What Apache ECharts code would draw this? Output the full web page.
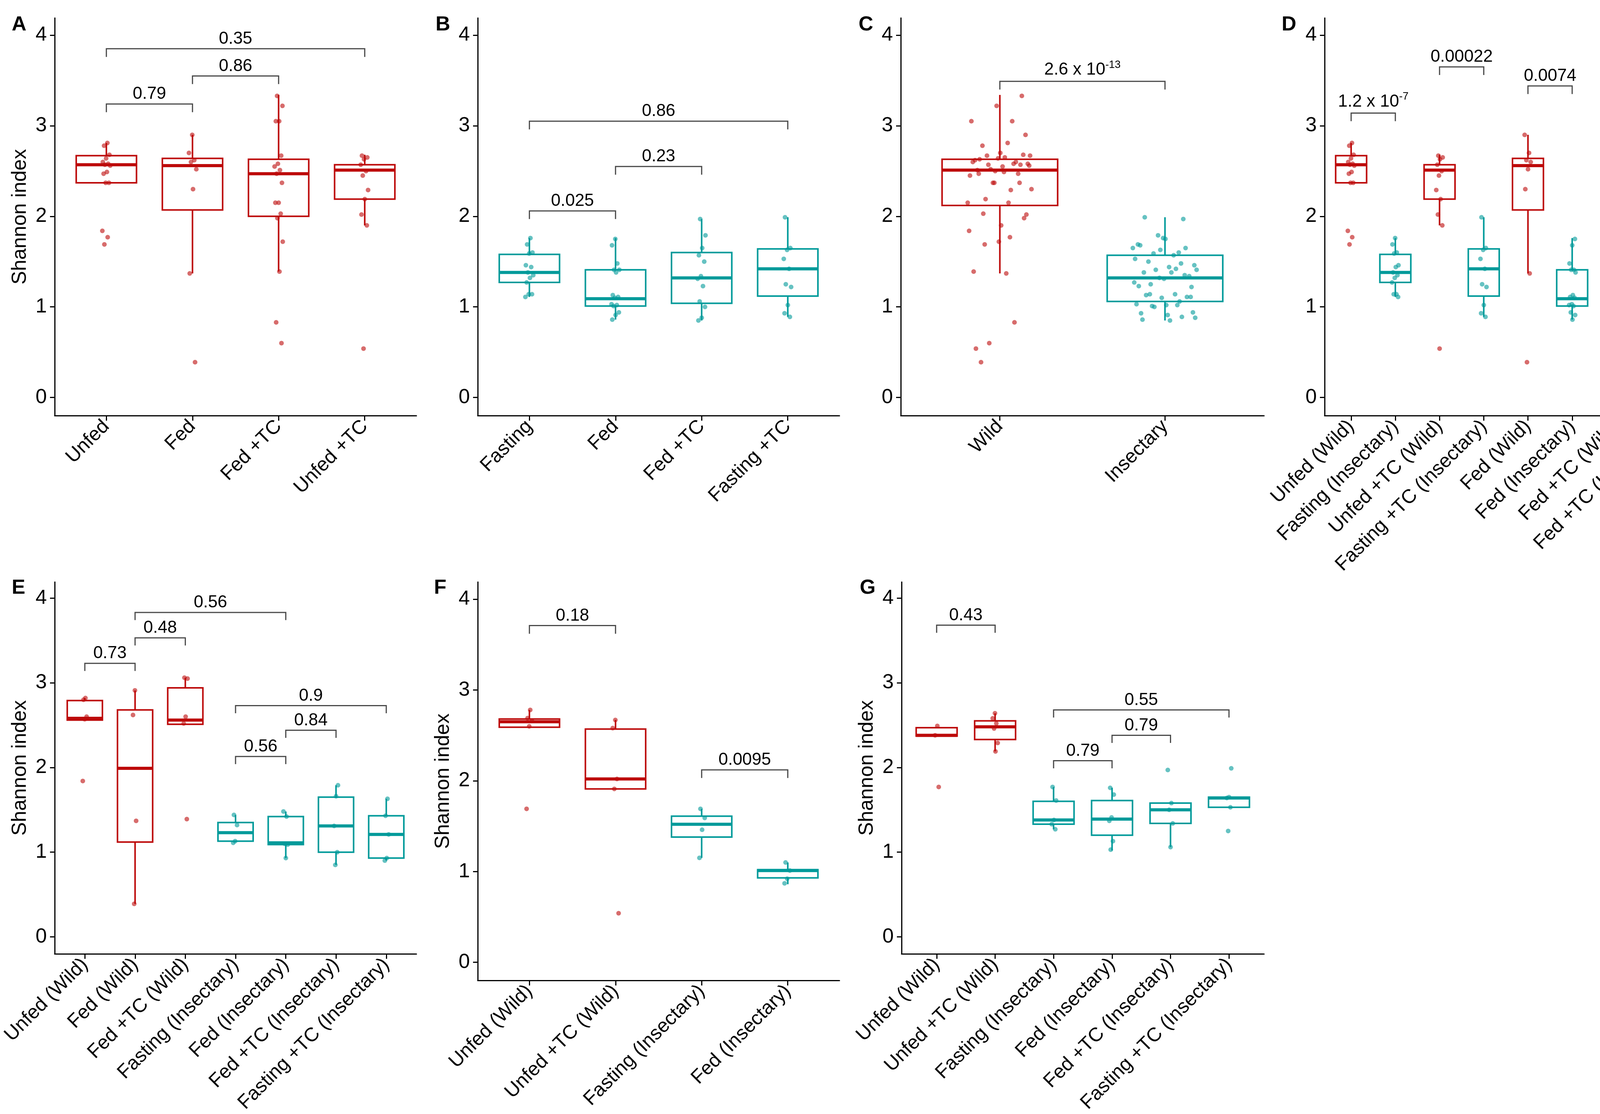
<!DOCTYPE html>
<html>
<head>
<meta charset="utf-8">
<script src="https://cdn.jsdelivr.net/npm/echarts@6/dist/echarts.min.js"></script>
<style>
html,body{margin:0;padding:0;background:#fff;}
#chart{width:4349px;height:2852px;}
</style>
</head>
<body>
<div id="chart"></div>
<script>
// ---------------- DATA ----------------
// Category labels
const catsA = ['Unfed', 'Fed', 'Fed +TC', 'Unfed +TC'];
const catsB = ['Fasting', 'Fed', 'Fed +TC', 'Fasting +TC'];
const catsC = ['Wild', 'Insectary'];
const catsD = ['Unfed (Wild)', 'Fasting (Insectary)', 'Unfed +TC (Wild)', 'Fasting +TC (Insectary)', 'Fed (Wild)', 'Fed (Insectary)', 'Fed +TC (Wild)', 'Fed +TC (Insectary)'];
const catsE = ['Unfed (Wild)', 'Fed (Wild)', 'Fed +TC (Wild)', 'Fasting (Insectary)', 'Fed (Insectary)', 'Fed +TC (Insectary)', 'Fasting +TC (Insectary)'];
const catsF = ['Unfed (Wild)', 'Unfed +TC (Wild)', 'Fasting (Insectary)', 'Fed (Insectary)'];
const catsG = ['Unfed (Wild)', 'Unfed +TC (Wild)', 'Fasting (Insectary)', 'Fed (Insectary)', 'Fed +TC (Insectary)', 'Fasting +TC (Insectary)'];

// Group of each category (W = wild, I = insectary)
const grpA = ['W', 'W', 'W', 'W'];
const grpB = ['I', 'I', 'I', 'I'];
const grpC = ['W', 'I'];
const grpD = ['W', 'I', 'W', 'I', 'W', 'I', 'W', 'I'];
const grpE = ['W', 'W', 'W', 'I', 'I', 'I', 'I'];
const grpF = ['W', 'W', 'I', 'I'];
const grpG = ['W', 'W', 'I', 'I', 'I', 'I'];

// Shannon index observations (panel A / B groups)
const unfedWild   = [2.81, 2.78, 2.68, 2.64, 2.60, 2.58, 2.57, 2.56, 2.49, 2.47, 2.37, 2.37, 1.84, 1.77, 1.69];
const fedWild     = [2.90, 2.70, 2.62, 2.60, 2.52, 2.30, 1.37, 0.39];
const fedTCWild   = [3.33, 3.22, 3.05, 3.05, 2.67, 2.58, 2.55, 2.51, 2.47, 2.37, 2.15, 2.15, 2.03, 1.98, 1.72, 1.39, 0.83, 0.60];
const unfedTCWild = [2.67, 2.65, 2.63, 2.57, 2.50, 2.45, 2.29, 2.19, 2.02, 1.90, 0.54];
const fastingIns   = [1.76, 1.69, 1.60, 1.59, 1.46, 1.44, 1.38, 1.35, 1.32, 1.27, 1.14, 1.14, 1.11];
const fedIns       = [1.75, 1.68, 1.48, 1.41, 1.41, 1.38, 1.13, 1.11, 1.10, 1.03, 1.02, 1.01, 0.94, 0.91, 0.86];
const fedTCIns     = [1.97, 1.79, 1.65, 1.57, 1.50, 1.34, 1.31, 1.23, 1.06, 1.00, 0.88, 0.85];
const fastingTCIns = [1.99, 1.65, 1.63, 1.53, 1.42, 1.25, 1.22, 1.02, 0.93, 0.89];

// Panel E observations
const eUnfedW     = [2.82, 2.80, 2.60, 2.57, 1.84];
const eFedW       = [2.91, 2.62, 1.37, 0.39];
const eFedTCW     = [3.06, 3.05, 2.60, 2.52, 1.39];
const eFastingI   = [1.44, 1.32, 1.13, 1.11];
const eFedI       = [1.48, 1.42, 1.10, 1.09, 0.93];
const eFedTCI     = [1.79, 1.66, 1.31, 1.00, 0.85];
const eFastingTCI = [1.63, 1.43, 1.21, 0.93, 0.90];
// Panel F observations
const fUnfedW   = [2.78, 2.69, 2.66, 2.60, 1.69];
const fUnfedTCW = [2.67, 2.58, 2.02, 1.91, 0.54];
const fFastingI = [1.69, 1.59, 1.46, 1.15];
const fFedI     = [1.10, 1.01, 0.92, 0.87];
// Panel G observations
const gUnfedW     = [2.49, 2.38, 1.77];
const gUnfedTCW   = [2.64, 2.58, 2.52, 2.46, 2.29, 2.19];
const gFastingI   = [1.77, 1.61, 1.38, 1.33, 1.27];
const gFedI       = [1.76, 1.68, 1.41, 1.37, 1.13, 1.03];
const gFedTCI     = [1.97, 1.58, 1.50, 1.34, 1.06];
const gFastingTCI = [1.99, 1.65, 1.64, 1.53, 1.25];

// Box statistics [lower whisker, Q1, median, Q3, upper whisker]
const boxUnfedWild   = [2.37, 2.37, 2.57, 2.67, 2.81];
const boxFedWild     = [1.37, 2.07, 2.56, 2.64, 2.90];
const boxFedTCWild   = [1.39, 2.00, 2.47, 2.63, 3.34];
const boxUnfedTCWild = [1.90, 2.19, 2.51, 2.57, 2.68];
const boxFastingIns   = [1.11, 1.27, 1.38, 1.58, 1.76];
const boxFedIns       = [0.86, 1.01, 1.09, 1.41, 1.76];
const boxFedTCIns     = [0.85, 1.04, 1.32, 1.60, 1.97];
const boxFastingTCIns = [0.89, 1.12, 1.42, 1.64, 1.99];
const boxWildAll = [1.37, 2.12, 2.51, 2.63, 3.34];
const boxInsAll  = [0.85, 1.06, 1.32, 1.57, 1.99];
const boxesE = [[2.56, 2.56, 2.58, 2.79, 2.82], [0.39, 1.12, 1.99, 2.68, 2.91], [2.51, 2.51, 2.56, 2.94, 3.06], [1.12, 1.13, 1.23, 1.35, 1.44], [0.93, 1.09, 1.11, 1.42, 1.48], [0.85, 1.00, 1.31, 1.65, 1.79], [0.90, 0.93, 1.21, 1.43, 1.63]];
const boxesF = [[2.59, 2.59, 2.65, 2.68, 2.78], [1.91, 1.91, 2.02, 2.57, 2.67], [1.15, 1.38, 1.52, 1.61, 1.69], [0.86, 0.93, 1.01, 1.02, 1.10]];
const boxesG = [[2.37, 2.37, 2.38, 2.47, 2.48], [2.19, 2.33, 2.48, 2.55, 2.64], [1.27, 1.33, 1.38, 1.60, 1.77], [1.02, 1.20, 1.39, 1.61, 1.76], [1.06, 1.34, 1.50, 1.58, 1.58], [1.53, 1.53, 1.64, 1.65, 1.65]];

// Comparison brackets [from category, to category, height, p-value]
const brA = [[1, 2, 3.24, '0.79'], [2, 3, 3.55, '0.86'], [1, 4, 3.85, '0.35']];
const brB = [[1, 2, 2.06, '0.025'], [2, 3, 2.55, '0.23'], [1, 4, 3.05, '0.86']];
const brC = [[1, 2, 3.49, '2.6 x 10^-13']];
const brD = [[1, 2, 3.14, '1.2 x 10^-7'], [3, 4, 3.65, '0.00022'], [5, 6, 3.44, '0.0074'], [7, 8, 3.95, '0.00041']];
const brE = [[1, 2, 3.23, '0.73'], [2, 3, 3.53, '0.48'], [2, 5, 3.83, '0.56'], [4, 5, 2.13, '0.56'], [5, 6, 2.44, '0.84'], [4, 7, 2.73, '0.9']];
const brF = [[1, 2, 3.71, '0.18'], [3, 4, 2.12, '0.0095']];
const brG = [[1, 2, 3.68, '0.43'], [3, 4, 2.08, '0.79'], [4, 5, 2.38, '0.79'], [3, 6, 2.68, '0.55']];

// Y axis ticks
const yTicks = [0, 1, 2, 3, 4];
const yTitle = 'Shannon index';
const panelLetters = ['A', 'B', 'C', 'D', 'E', 'F', 'G'];

// ---------------- LAYOUT / STYLE ----------------
const FONT = 'Liberation Sans, Arial, Helvetica, sans-serif';
const COL = { W: '#BD0A0A', I: '#009A9A' };
const BOX_W = 0.7;
const Y_MIN = -0.2, Y_MAX = 4.19;

const panels = [
  { cats: catsA, grp: grpA, boxes: [boxUnfedWild, boxFedWild, boxFedTCWild, boxUnfedTCWild], pts: [unfedWild, fedWild, fedTCWild, unfedTCWild], br: brA, jit: 0.05, title: true,  rect: [140, 46, 926, 1018], letter: [30, 38] },
  { cats: catsB, grp: grpB, boxes: [boxFastingIns, boxFedIns, boxFedTCIns, boxFastingTCIns], pts: [fastingIns, fedIns, fedTCIns, fastingTCIns], br: brB, jit: 0.05, title: false, rect: [1223, 46, 926, 1018], letter: [1115, 38] },
  { cats: catsC, grp: grpC, boxes: [boxWildAll, boxInsAll], pts: [[].concat(unfedWild, fedWild, fedTCWild, unfedTCWild), [].concat(fastingIns, fedIns, fedTCIns, fastingTCIns)], br: brC, jit: 0.2, title: false, rect: [2306, 46, 930, 1018], letter: [2198, 38] },
  { cats: catsD, grp: grpD, boxes: [boxUnfedWild, boxFastingIns, boxUnfedTCWild, boxFastingTCIns, boxFedWild, boxFedIns, boxFedTCWild, boxFedTCIns], pts: [unfedWild, fastingIns, unfedTCWild, fastingTCIns, fedWild, fedIns, fedTCWild, fedTCIns], br: brD, jit: 0.08, title: false, rect: [3391, 46, 928, 1018], letter: [3281, 38] },
  { cats: catsE, grp: grpE, boxes: boxesE, pts: [eUnfedW, eFedW, eFedTCW, eFastingI, eFedI, eFedTCI, eFastingTCI], br: brE, jit: 0.05, title: true, rect: [140, 1490, 926, 1020], letter: [30, 1480] },
  { cats: catsF, grp: grpF, boxes: boxesF, pts: [fUnfedW, fUnfedTCW, fFastingI, fFedI], br: brF, jit: 0.04, title: true, rect: [1223, 1490, 926, 1020], letter: [1111, 1480] },
  { cats: catsG, grp: grpG, boxes: boxesG, pts: [gUnfedW, gUnfedTCW, gFastingI, gFedI, gFedTCI, gFastingTCI], br: brG, jit: 0.05, title: true, rect: [2308, 1490, 928, 1020], letter: [2201, 1480] }
];

// deterministic jitter pattern (position only)
function jitter(k) { return (((k + 1) * 0.6180339887) % 1) * 2 - 1; }

function renderBox(params, api) {
  const x = api.value(0);
  const lo = api.value(1), q1 = api.value(2), med = api.value(3), q3 = api.value(4), hi = api.value(5);
  const col = api.value(6) === 0 ? COL.W : COL.I;
  const h = BOX_W / 2;
  const tl = api.coord([x - h, q3]);
  const br = api.coord([x + h, q1]);
  const mL = api.coord([x - h, med]), mR = api.coord([x + h, med]);
  const pHi = api.coord([x, hi]), pQ3 = api.coord([x, q3]), pQ1 = api.coord([x, q1]), pLo = api.coord([x, lo]);
  return {
    type: 'group',
    children: [
      { type: 'line', shape: { x1: pHi[0], y1: pHi[1], x2: pQ3[0], y2: pQ3[1] }, style: { stroke: col, lineWidth: 4 } },
      { type: 'line', shape: { x1: pQ1[0], y1: pQ1[1], x2: pLo[0], y2: pLo[1] }, style: { stroke: col, lineWidth: 4 } },
      { type: 'rect', shape: { x: tl[0], y: tl[1], width: br[0] - tl[0], height: br[1] - tl[1] }, style: { fill: '#fff', stroke: col, lineWidth: 4 } },
      { type: 'line', shape: { x1: mL[0], y1: mL[1], x2: mR[0], y2: mR[1] }, style: { stroke: col, lineWidth: 8 } }
    ]
  };
}

function makeBracketRenderer(labels) {
  return function (params, api) {
    const x1 = api.value(0), x2 = api.value(1), y = api.value(2);
    const label = labels[api.value(3)];
    const tip = 0.09;
    const a = api.coord([x1, y - tip]), b = api.coord([x1, y]), c = api.coord([x2, y]), d = api.coord([x2, y - tip]);
    const cx = (b[0] + c[0]) / 2, cy = b[1] - 3;
    let textStyle;
    if (label.indexOf('^') >= 0) {
      const parts = label.split('^');
      textStyle = {
        text: '{m|' + parts[0] + '}{s|' + parts[1] + '}',
        rich: {
          m: { fontSize: 44, fontFamily: FONT, fill: '#000', lineHeight: 52 },
          s: { fontSize: 27, fontFamily: FONT, fill: '#000', verticalAlign: 'top', lineHeight: 52 }
        },
        align: 'center', verticalAlign: 'bottom'
      };
    } else {
      textStyle = { text: label, fontSize: 44, fontFamily: FONT, fill: '#000', align: 'center', verticalAlign: 'bottom' };
    }
    return {
      type: 'group',
      children: [
        { type: 'polyline', shape: { points: [a, b, c, d] }, style: { stroke: '#4a4a4a', lineWidth: 3, fill: null } },
        { type: 'text', x: cx, y: cy, style: textStyle }
      ]
    };
  };
}

const grid = [], xAxis = [], yAxis = [], series = [], title = [];
panels.forEach(function (p, gi) {
  const n = p.cats.length;
  const idx = p.cats.map(function (_, i) { return i + 1; });
  grid.push({ left: p.rect[0], top: p.rect[1], width: p.rect[2], height: p.rect[3], containLabel: false });
  xAxis.push({
    type: 'value', gridIndex: gi, min: 0.4, max: n + 0.6,
    splitLine: { show: false },
    axisLine: { show: true, onZero: false, lineStyle: { color: '#000', width: 3 } },
    axisTick: { show: true, customValues: idx, length: 13, lineStyle: { color: '#000', width: 3 } },
    axisLabel: {
      customValues: idx, rotate: 45, fontSize: 50, fontFamily: FONT, color: '#000', margin: 20,
      formatter: function (v) { return p.cats[Math.round(v) - 1] || ''; }
    }
  });
  yAxis.push({
    type: 'value', gridIndex: gi, min: Y_MIN, max: Y_MAX,
    name: p.title ? yTitle : '', nameLocation: 'middle', nameRotate: 90, nameGap: 62,
    nameTextStyle: { fontSize: 52, fontFamily: FONT, color: '#000' },
    splitLine: { show: false },
    axisLine: { show: true, onZero: false, lineStyle: { color: '#000', width: 3 } },
    axisTick: { show: true, customValues: yTicks, length: 12, lineStyle: { color: '#000', width: 3 } },
    axisLabel: { customValues: yTicks, fontSize: 52, fontFamily: FONT, color: '#000', margin: 20, formatter: function (v) { return String(v); } }
  });
  title.push({ text: panelLetters[gi], left: p.rect[0] === 140 ? p.letter[0] : p.letter[0], top: p.letter[1], padding: 0, textStyle: { fontSize: 52, fontWeight: 'bold', fontFamily: FONT, color: '#000' } });

  // boxes
  series.push({
    type: 'custom', xAxisIndex: gi, yAxisIndex: gi, clip: false, z: 2,
    renderItem: renderBox,
    encode: { x: 0, y: [1, 2, 3, 4, 5] },
    data: p.boxes.map(function (b, i) { return [i + 1, b[0], b[1], b[2], b[3], b[4], p.grp[i] === 'W' ? 0 : 1]; })
  });
  // jittered points
  const pts = [];
  p.pts.forEach(function (vals, i) {
    vals.forEach(function (v, k) {
      pts.push({ value: [i + 1 + jitter(k + i * 3) * p.jit, v], itemStyle: { color: COL[p.grp[i]] } });
    });
  });
  series.push({
    type: 'scatter', xAxisIndex: gi, yAxisIndex: gi, z: 3, symbol: 'circle', symbolSize: 12,
    itemStyle: { opacity: 0.6 }, data: pts, silent: true
  });
  // brackets
  const labels = p.br.map(function (b) { return b[3]; });
  series.push({
    type: 'custom', xAxisIndex: gi, yAxisIndex: gi, clip: false, z: 4,
    renderItem: makeBracketRenderer(labels),
    encode: { x: [0, 1], y: 2 },
    data: p.br.map(function (b, i) { return [b[0], b[1], b[2], i]; })
  });
});

const chart = echarts.init(document.getElementById('chart'), null, { renderer: 'canvas' });
chart.setOption({
  backgroundColor: '#fff',
  animation: false,
  title: title,
  grid: grid,
  xAxis: xAxis,
  yAxis: yAxis,
  series: series
});
</script>
</body>
</html>
